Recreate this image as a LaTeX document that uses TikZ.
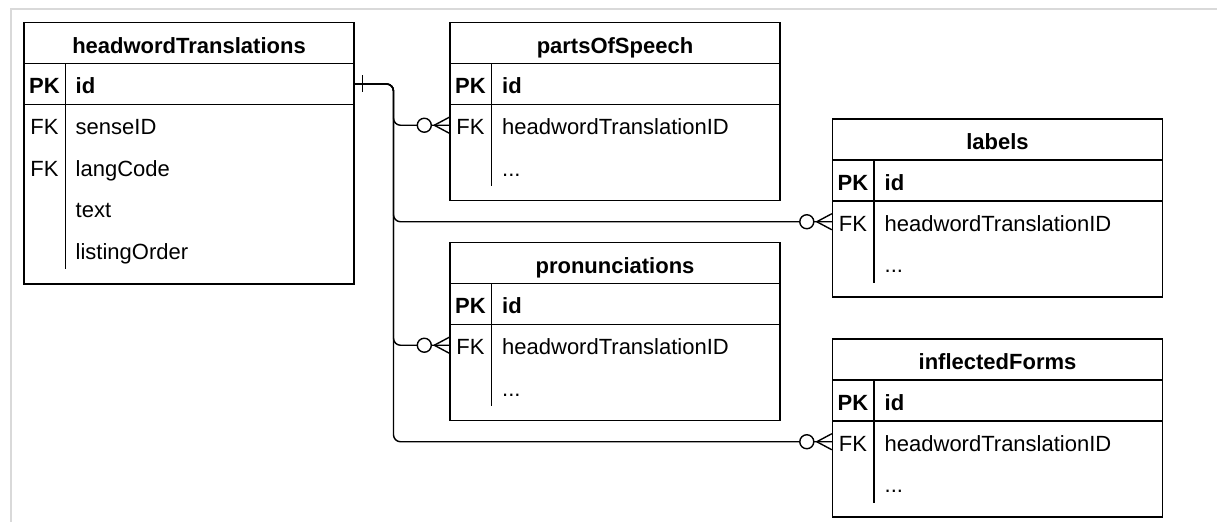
\documentclass[tikz,border=0pt]{standalone}
\usepackage{fontspec}
\setmainfont{Liberation Sans}

\begin{document}
\begin{tikzpicture}[x=0.5pt,y=-0.5pt,line width=0.7pt,
			every node/.style={inner sep=0pt,font=\fontsize{11pt}{13pt}\selectfont},
			tblbox/.style={draw,minimum width=165pt},
			keyrow/.style={draw,minimum width=165pt,minimum height=20.5pt},
			fkrow/.style={minimum width=165pt,minimum height=20.75pt},
			tbltitle/.style={anchor=base,font=\fontsize{11pt}{13pt}\selectfont\bfseries},
			pkcol/.style={anchor=base,font=\fontsize{11pt}{13pt}\selectfont\bfseries},
			pkfield/.style={anchor=base west,font=\fontsize{11pt}{13pt}\selectfont\bfseries},
			keycol/.style={anchor=base},
			fieldcol/.style={anchor=base west},
			relation/.style={rounded corners=3.5pt},
			onemark/.pic={\draw (8,-8.5) -- (8,8.5);},
			zeromany/.pic={\draw (-15,0) -- (0,-8) (-15,0) -- (0,8);
				\draw[fill=white] (-25,0) circle (3.5pt);}]

		\useasboundingbox (0,0) rectangle (1217,522);
		\draw[gray!30, line width=0.8pt] (1217,9) -- (10.8,9) -- (10.8,522);

		% headwordTranslations
		\node[tblbox, minimum height=130.75pt] (ht) at (189,153.25) {};
		\node[keyrow] (ht-pk) at (189,84) {};
		\node[tbltitle] (ht-name) at (189,53.1) {headwordTranslations};
		\draw (65.5,63.5) -- (65.5,269);
		\node[pkcol] (ht-k0) at (44.5,94) {PK};
		\node[pkfield] (ht-f0) at (75,94) {id};
		\node[keycol] (ht-k1) at (44.5,134.8) {FK};
		\node[fieldcol] (ht-f1) at (75,134.8) {senseID};
		\node[keycol] (ht-k2) at (44.5,176.3) {FK};
		\node[fieldcol] (ht-f2) at (75,176.3) {langCode};
		\node[fieldcol] (ht-f3) at (75,217.8) {text};
		\node[fieldcol] (ht-f4) at (75,259.3) {listingOrder};

		% partsOfSpeech
		\node[tblbox, minimum height=89pt] (pos) at (615,111.5) {};
		\node[keyrow] (pos-pk) at (615,84) {};
		\node[fkrow] (pos-fk) at (615,125.25) {};
		\node[tbltitle] (pos-name) at (615,53.1) {partsOfSpeech};
		\draw (491.5,63.5) -- (491.5,186.5);
		\node[pkcol] (pos-k0) at (470.5,94) {PK};
		\node[pkfield] (pos-f0) at (501.5,94) {id};
		\node[keycol] (pos-k1) at (470.5,134.8) {FK};
		\node[fieldcol] (pos-f1) at (501.5,134.8) {headwordTranslationID};
		\node[fieldcol] (pos-f2) at (501.5,176.3) {...};

		% labels
		\node[tblbox, minimum height=89pt] (lab) at (997.5,208) {};
		\node[keyrow] (lab-pk) at (997.5,180.5) {};
		\node[fkrow] (lab-fk) at (997.5,221.75) {};
		\node[tbltitle] (lab-name) at (997.5,149.6) {labels};
		\draw (874,160) -- (874,283);
		\node[pkcol] (lab-k0) at (853,190.5) {PK};
		\node[pkfield] (lab-f0) at (884,190.5) {id};
		\node[keycol] (lab-k1) at (853,231.3) {FK};
		\node[fieldcol] (lab-f1) at (884,231.3) {headwordTranslationID};
		\node[fieldcol] (lab-f2) at (884,272.8) {...};

		% pronunciations
		\node[tblbox, minimum height=89pt] (pron) at (615,331.5) {};
		\node[keyrow] (pron-pk) at (615,304) {};
		\node[fkrow] (pron-fk) at (615,345.25) {};
		\node[tbltitle] (pron-name) at (615,273.1) {pronunciations};
		\draw (491.5,283.5) -- (491.5,406.5);
		\node[pkcol] (pron-k0) at (470.5,314) {PK};
		\node[pkfield] (pron-f0) at (501.5,314) {id};
		\node[keycol] (pron-k1) at (470.5,354.8) {FK};
		\node[fieldcol] (pron-f1) at (501.5,354.8) {headwordTranslationID};
		\node[fieldcol] (pron-f2) at (501.5,396.3) {...};

		% inflectedForms
		\node[tblbox, minimum height=89pt] (infl) at (997.5,428) {};
		\node[keyrow] (infl-pk) at (997.5,400.5) {};
		\node[fkrow] (infl-fk) at (997.5,441.75) {};
		\node[tbltitle] (infl-name) at (997.5,369.6) {inflectedForms};
		\draw (874,380) -- (874,503);
		\node[pkcol] (infl-k0) at (853,410.5) {PK};
		\node[pkfield] (infl-f0) at (884,410.5) {id};
		\node[keycol] (infl-k1) at (853,451.3) {FK};
		\node[fieldcol] (infl-f1) at (884,451.3) {headwordTranslationID};
		\node[fieldcol] (infl-f2) at (884,492.8) {...};

		% relations
		\coordinate (bus) at (393.5,0);
		\draw[relation] (ht-pk.east) -- (bus |- ht-pk.east) -- (bus |- pos-fk.west) -- (pos-fk.west);
		\draw[relation] (ht-pk.east) -- (bus |- ht-pk.east) -- (bus |- lab-fk.west) -- (lab-fk.west);
		\draw[relation] (ht-pk.east) -- (bus |- ht-pk.east) -- (bus |- pron-fk.west) -- (pron-fk.west);
		\draw[relation] (ht-pk.east) -- (bus |- ht-pk.east) -- (bus |- infl-fk.west) -- (infl-fk.west);
		\pic at (ht-pk.east) {onemark};
		\pic at (pos-fk.west) {zeromany};
		\pic at (lab-fk.west) {zeromany};
		\pic at (pron-fk.west) {zeromany};
		\pic at (infl-fk.west) {zeromany};

		\end{tikzpicture}
\end{document}
